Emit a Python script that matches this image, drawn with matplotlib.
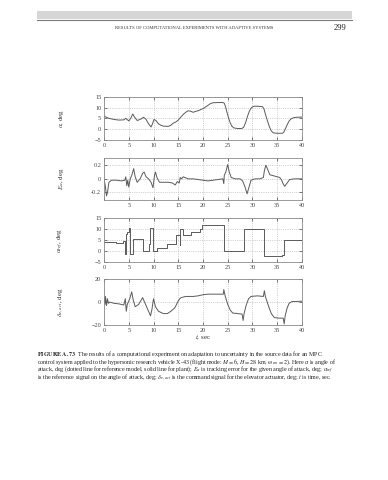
import numpy as np
import matplotlib.pyplot as plt
from matplotlib.patches import Rectangle
from matplotlib.lines import Line2D

plt.rcParams['font.family'] = ['Liberation Serif', 'DejaVu Serif']
plt.rcParams['mathtext.fontset'] = 'stix'

# angle of attack, deg (plant)
alpha_pts = [(0, 6), (0.5, 5.5), (1, 5), (2, 4.5), (3, 4.2), (4, 4.3), (4.4, 5), (5, 3.8),
             (5.4, 5), (5.8, 7), (6.2, 5.5), (6.7, 4), (7.3, 4.5), (8, 5.5), (8.5, 4.5),
             (9, 2.5), (9.5, 1), (9.8, 2.5), (10.1, 4.5), (10.5, 4), (11, 2.5), (11.5, 1.8),
             (12, 1.4), (13, 1.3), (13.5, 1.8), (14, 2.8), (14.5, 3.3), (15, 4.2), (15.5, 5.5),
             (16, 6.8), (16.5, 7.8), (17, 8.5), (17.5, 8.3), (18, 7.8), (18.5, 8.2), (19, 8.5),
             (19.5, 9), (20, 9.5), (20.5, 10.2), (21, 11), (21.5, 11.8), (22, 12.2), (23, 12.3),
             (24, 12.3), (24.3, 12), (24.6, 10), (25, 6.5), (25.4, 3.5), (25.8, 1.5), (26.2, 0.6),
             (27, 0.3), (27.8, 0.3), (28.2, 0.8), (28.6, 3), (29, 6), (29.4, 8.5), (29.8, 10),
             (30.3, 10.6), (31, 10.6), (32, 10.4), (32.3, 9.5), (32.6, 7), (33, 4), (33.4, 1.2),
             (33.8, -0.8), (34.2, -1.7), (35, -1.9), (36, -1.9), (36.3, -1.5), (36.6, 0),
             (37, 2), (37.4, 3.8), (37.8, 4.8), (38.3, 5.3), (39, 5.5), (40, 5.6)]

# tracking error, deg
err_pts = [(0, 0), (0.3, -0.12), (0.5, -0.25), (0.7, -0.2), (1.0, -0.05), (1.5, -0.02),
           (2.5, -0.02), (3.5, -0.03), (4.2, -0.02), (4.4, 0.03), (4.6, -0.1), (4.8, -0.02),
           (5.0, -0.12), (5.3, 0.0), (5.6, 0.05), (6.0, 0.15), (6.3, 0.03), (6.7, -0.05),
           (7.3, 0.0), (7.8, 0.08), (8.1, 0.1), (8.5, 0.03), (9.0, 0.0), (9.5, -0.05),
           (9.9, -0.13), (10.2, 0.05), (10.4, 0.1), (10.7, 0.02), (11.2, -0.05), (12, -0.05),
           (13, -0.05), (13.8, -0.06), (14.4, -0.09), (14.8, -0.04), (15.2, -0.06), (15.4, 0.02),
           (15.7, 0.0), (16, 0.03), (17, 0.0), (18, 0.0), (19, -0.01), (20, -0.02), (21, -0.03),
           (22, -0.02), (23, -0.01), (24, 0.0), (24.2, -0.07), (24.3, 0.05), (24.6, 0.1),
           (25, 0.21), (25.3, 0.1), (25.7, 0.02), (26.5, 0.0), (27.5, 0.0), (28, -0.03),
           (28.5, -0.12), (28.9, -0.22), (29.3, -0.12), (29.7, -0.02), (30.5, 0.0), (31.5, 0.0),
           (32.2, 0.02), (32.4, 0.12), (32.7, 0.2), (33, 0.15), (33.5, 0.06), (34.5, 0.04),
           (35.5, 0.02), (35.9, -0.02), (36.1, -0.06), (36.5, -0.11), (37, -0.06), (37.5, -0.01),
           (38.5, 0.0), (40, 0.0)]

# reference signal, deg (piecewise constant)
ref_t = [0, 2.5, 3.8, 4.2, 4.4, 4.7, 5.0, 5.3, 5.9, 7.9, 9.0, 9.2, 9.8, 10.8, 12.7, 14.5,
         15.3, 15.4, 16.0, 17.5, 19.3, 19.8, 24.2, 28.2, 32.3, 36.0, 36.3, 40]
ref_v = [4.3, 3.8, 4.8, -1, 8, 9, 10.5, -1, 5.7, 0, 3.5, 10.5, 0, 1.3, 3.3, 7.5,
         3, 10.3, 7.5, 8.7, 10.2, 11.8, 0, 10.2, -2.2, -1.5, 5, 5]

# elevator actuator command, deg
delta_pts = [(0, 4), (0.2, -2), (0.3, 5), (0.5, -3), (0.7, 3), (0.9, -1), (1.2, 0), (2, -1),
             (3, -1.5), (4, -2.5), (4.3, 3), (4.5, -8), (4.7, -2), (5.2, 3), (5.6, 9), (5.9, 2),
             (6.3, -4), (7, -2), (7.8, 4), (8.3, -1), (9, -8), (9.4, -12), (9.7, -6), (10, 3),
             (10.4, -4), (11, -8), (12, -10), (12.8, -10), (13.5, -8), (14.3, -5), (15, 1),
             (15.3, 3), (15.6, 4), (16.5, 5), (18, 5), (19, 5.5), (20, 6.5), (21, 7), (23, 7),
             (24.1, 7), (24.2, 11), (24.5, 5), (25, -2), (25.5, -7), (26, -9.5), (27, -10),
             (27.9, -10.5), (28.1, -16), (28.3, -10), (28.7, -3), (29.2, 3), (29.7, 5), (31, 5.5),
             (32.2, 5), (32.4, 10), (32.6, 5), (33.2, -3), (33.8, -10), (34.4, -13.5), (35.3, -14),
             (36.2, -14), (36.4, -19), (36.6, -12), (37, -5), (37.4, -1), (38, 0.5), (40, 0.8)]

xticks = [0, 5, 10, 15, 20, 25, 30, 35, 40]

W, H = 388, 480
fig = plt.figure(figsize=(W / 100, H / 100), dpi=100)
fig.patch.set_facecolor('white')


def fx(px):
    return px / W


def fy(py):
    return 1 - py / H


# page header
fig.patches.append(Rectangle((fx(37), fy(19)), fx(352) - fx(37), fy(11) - fy(19),
                             transform=fig.transFigure, facecolor='#d6d6d6', edgecolor='none'))
fig.lines.append(Line2D([fx(37), fx(352)], [fy(19.5), fy(19.5)], transform=fig.transFigure,
                        color='#7a7a7a', lw=0.8))
fig.text(fx(194), fy(28), 'RESULTS OF COMPUTATIONAL EXPERIMENTS WITH ADAPTIVE SYSTEMS',
         ha='center', va='center', fontsize=3.3, color='#333333')
fig.text(fx(346), fy(28), '299', ha='right', va='center', fontsize=6.2, color='#222222')

line_col = '#5a5a5a'
frame_col = '#8a8a8a'
L, R = 104, 302
panels = [(96.7, 140), (157.7, 200), (218.3, 262.3), (279.3, 325)]
axes = []
for top, bot in panels:
    ax = fig.add_axes([fx(L), fy(bot), fx(R) - fx(L), fy(top) - fy(bot)])
    ax.set_xlim(0, 40)
    ax.set_xticks(xticks)
    ax.grid(True, ls=':', lw=0.5, color='#aaaaaa')
    ax.tick_params(direction='in', top=True, right=True, length=2, width=0.5,
                   labelsize=4.5, colors='#444444', pad=2)
    for s in ax.spines.values():
        s.set_color(frame_col)
        s.set_linewidth(0.6)
    ax.yaxis.set_label_coords(-0.19, 0.5)
    axes.append(ax)

ax1, ax2, ax3, ax4 = axes

t, a = zip(*alpha_pts)
ax1.plot(t, a, color=line_col, lw=0.7)
ax1.set_ylim(-5, 15)
ax1.set_yticks([-5, 0, 5, 10, 15])
ax1.set_ylabel(r'$\alpha$, deg', fontsize=5, color='#333333')

t, e = zip(*err_pts)
ax2.plot(t, e, color=line_col, lw=0.7)
ax2.set_ylim(-0.31, 0.31)
ax2.set_yticks([-0.2, 0, 0.2])
ax2.set_yticklabels(['-0.2', '0', '0.2'])
ax2.set_xticklabels([''] + [str(v) for v in xticks[1:]])
ax2.set_ylabel(r'$E_\alpha$, deg', fontsize=5, color='#333333')

ax3.plot(ref_t, ref_v, color=line_col, lw=0.7, drawstyle='steps-post')
ax3.set_ylim(-5, 15)
ax3.set_yticks([-5, 0, 5, 10, 15])
ax3.set_ylabel(r'$\alpha_{ref}$, deg', fontsize=5, color='#333333')

t, d = zip(*delta_pts)
ax4.plot(t, d, color=line_col, lw=0.7)
ax4.set_ylim(-20, 20)
ax4.set_yticks([-20, 0, 20])
ax4.set_ylabel(r'$\delta_{e,\,act}$, deg', fontsize=5, color='#333333')
ax4.set_xlabel(r'$t$, sec', fontsize=5, color='#333333', labelpad=1)

# caption, one text block so the lines share a single box
cap_lines = [
    r'$\bf{FIGURE\ A.73}$  The results of a computational experiment on adaptation to uncertainty in the source data for an MPC',
    r'control system applied to the hypersonic research vehicle X-43 (flight mode: $M = 6$, $H = 28$ km, $\omega_{em} = 2$). Here $\alpha$ is angle of',
    r'attack, deg (dotted line for reference model, solid line for plant); $E_\alpha$ is tracking error for the given angle of attack, deg; $\alpha_{ref}$',
    r'is the reference signal on the angle of attack, deg; $\delta_{e,\,act}$ is the command signal for the elevator actuator, deg; $t$ is time, sec.',
]
fig.text(fx(37), fy(349), '\n'.join(cap_lines), ha='left', va='top', fontsize=4.3,
         color='#222222', linespacing=0.68)

fig.savefig('out.png', dpi=100)
